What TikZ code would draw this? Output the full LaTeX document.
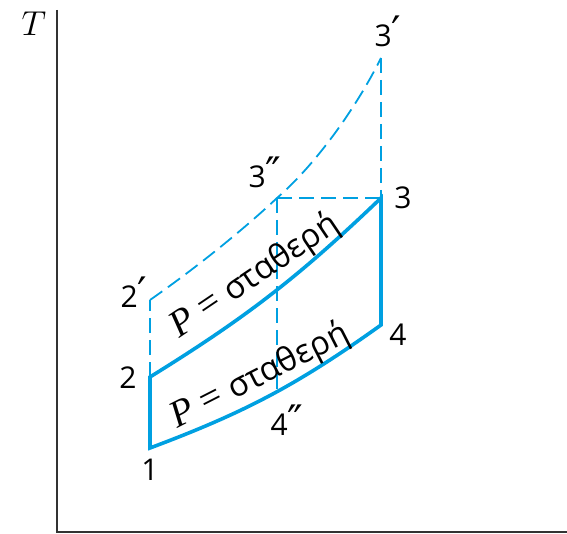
\documentclass[tikz,border=0pt]{standalone}
\usepackage{fontspec}
\setmainfont{Open Sans}
\newfontfamily\serifP{Liberation Serif}
\newfontfamily\primefont{DejaVu Sans}
\usepackage{tikz}
\usetikzlibrary{calc}
\definecolor{cycleblue}{RGB}{0,160,225}
\newcommand{\pr}{{\primefont\fontsize{21}{21}\selectfont ′}}
\newcommand{\ppr}{{\primefont\fontsize{21}{21}\selectfont ″}}
\newcommand{\isobar}{{\serifP\fontsize{19}{19}\selectfont\itshape P\upshape\ =\ }{\fontsize{16.5}{18}\selectfont σταθερή}}

\begin{document}
\begin{tikzpicture}[x=0.5pt,y=-0.5pt,
    every node/.style={font=\fontsize{15}{18}\selectfont},
    axisline/.style={line width=1pt,draw=black!80},
    solidcycle/.style={line width=1.8pt,draw=cycleblue},
    dashcycle/.style={line width=0.9pt,draw=cycleblue,dash pattern=on 7.5pt off 3.5pt}]
        \useasboundingbox (0,0) rectangle (567,534);
        % axes
        \coordinate (top) at (57,10);
        \coordinate (orig) at (57,532);
        \coordinate (right) at (567,532);
        \draw[axisline] (top) -- (orig) -- (right);
        \node (lT) at (34,24) {\LARGE $T$};
        % states
        \coordinate (p1) at (150,448);
        \coordinate (p2) at (150,377);
        \coordinate (p2p) at (150,300);
        \coordinate (p3pp) at (277,198);
        \coordinate (p3) at (381,198);
        \coordinate (p3p) at (381,58);
        \coordinate (p4) at (381,325);
        \coordinate (p4pp) at (277,391);
        % dashed lines
        \draw[dashcycle] (p2) -- (p2p);
        \draw[dashcycle] (p2p) .. controls (200,265) and (245,228) .. (p3pp)
            .. controls (315,165) and (355,110) .. (p3p);
        \draw[dashcycle] (p3p) -- (p3);
        \draw[dashcycle] (p3pp) -- (p3);
        \draw[dashcycle] (p3pp) -- (p4pp);
        % cycle
        \draw[solidcycle,line join=miter] (p4) -- (p3) to[bend left=6] (p2) -- (p1) to[bend right=7.5] (p4) -- cycle;
        \node[rotate=34] (ltop) at (255,276) {\isobar};
        \node[rotate=27] (lbot) at (260,376) {\isobar};
        % labels
        \node (l1) at (150,470) {1};
        \node (l2) at (128,378) {2};
        \node (l2p) at (134,292) {2\pr};
        \node (l3pp) at (265,172) {3\ppr};
        \node (l3) at (403,198) {3};
        \node (l3p) at (388,31) {3\pr};
        \node (l4) at (398,335) {4};
        \node (l4pp) at (287,420) {4\ppr};
    \end{tikzpicture}
\end{document}
